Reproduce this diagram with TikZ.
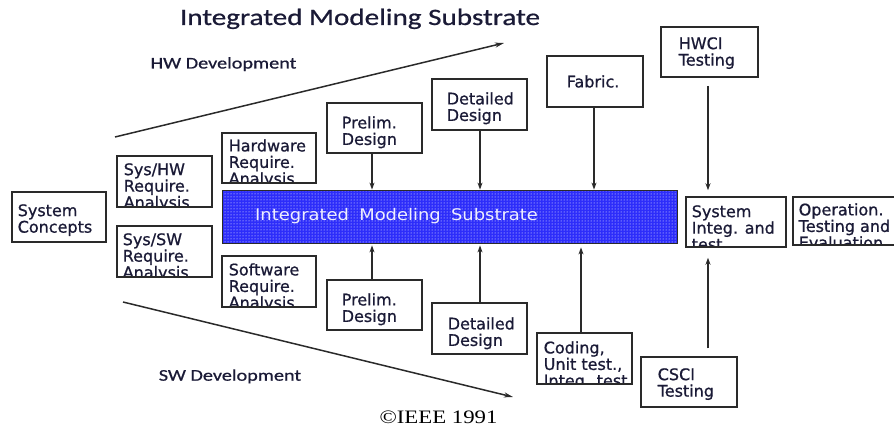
\documentclass[tikz,border=0pt]{standalone}
\usepackage{fontspec}
\usetikzlibrary{arrows.meta,patterns}
\newfontfamily\boxfont[FakeBold=0.8]{DejaVu Sans}
\newfontfamily\barfont[FakeStretch=1.12,WordSpace=1.8]{DejaVu Sans}
\newfontfamily\headfont[FakeStretch=1.24,FakeBold=0.8]{Carlito}
\newfontfamily\notefont[FakeStretch=1.2]{Liberation Serif}
\definecolor{ink}{HTML}{1A1A36}
\definecolor{edge}{HTML}{2A2A2A}
\definecolor{imsblue}{RGB}{45,45,250}

\tikzset{
  stage/.style={draw=edge, line width=1.5pt, rectangle, inner sep=0pt, fill=white},
  stagetext/.style={draw=none, fill=none, minimum width=0pt, minimum height=0pt,
    font=\boxfont\fontsize{16}{16.5}\selectfont, text=ink,
    align=left, inner sep=0pt, anchor=north west},
  flow/.style={draw=edge, line width=1.4pt, -{Stealth[length=7pt,width=5pt]}},
  phase/.style={draw=edge, line width=1.5pt, -{Stealth[length=9pt,width=5pt]}},
  heading/.style={font=\headfont, text=ink, inner sep=0pt, anchor=base},
}

% stage box: name, left, top, right, bottom, text inset x, text inset y, text
\newcommand\stagebox[8]{%
  \node[stage, minimum width={#4-#2}, minimum height={#5-#3},
    path picture={\node[stagetext] at ([xshift=#6pt, yshift={-#7pt+0.5pt}]path picture bounding box.north west) {#8};}]
    (#1) at ({(#2+#4)/2},{(#3+#5)/2}) {};}

\begin{document}
\begin{tikzpicture}[x=1pt, y=-1pt]
\useasboundingbox (0,0) rectangle (894,428);
\clip (0,0) rectangle (894,428);

% headings
\node[heading, font=\headfont\fontsize{23.5}{26}\selectfont] (title) at (360,25) {Integrated Modeling Substrate};
\node[heading, font=\headfont\fontsize{16.3}{18}\selectfont] (hwdev) at (223.5,68.5) {HW Development};
\node[heading, font=\headfont\fontsize{16.3}{18}\selectfont] (swdev) at (230,380.7) {SW Development};
\node[heading, font=\notefont\fontsize{19}{21}\selectfont, text=black] (ieee) at (438.5,423) {\char"00A9IEEE 1991};

% development directions
\coordinate (hwfrom) at (115,137);
\coordinate (hwto) at (504,43);
\coordinate (swfrom) at (123,302);
\coordinate (swto) at (513,397);
\draw[phase] (hwfrom) -- (hwto);
\draw[phase] (swfrom) -- (swto);

% central substrate bar
\node[draw=edge, line width=0.8pt, minimum width=455pt, minimum height=53pt, inner sep=0pt,
  preaction={fill=imsblue}, pattern=dots, pattern color=white]
  (imsbar) at (449.5,216.5) {};
\node[font=\barfont\fontsize{16}{18}\selectfont, text=white!92!imsblue, inner sep=0pt, anchor=base west]
  (imstext) at (255,220) {Integrated Modeling Substrate};

% stages
\stagebox{concepts}{12}{192}{106}{242}{5}{12}{System\\Concepts}
\stagebox{syshw}{117}{156}{212}{207}{6}{7}{Sys/HW\\Require.\\Analysis}
\stagebox{syssw}{117}{226}{212}{277}{5}{7}{Sys/SW\\Require.\\Analysis}
\stagebox{hwreq}{222}{133}{316}{183}{6}{6}{Hardware\\Require.\\Analysis}
\stagebox{swreq}{222}{256}{316}{307}{6}{7}{Software\\Require.\\Analysis}
\stagebox{prelimhw}{327}{103}{422}{153}{14}{13}{Prelim.\\Design}
\stagebox{detailhw}{432}{79}{527}{130}{14}{13}{Detailed\\Design}
\stagebox{fabric}{547}{56}{643}{107}{19}{19}{Fabric.}
\stagebox{hwci}{661}{27}{758}{77}{17}{10}{HWCI\\Testing}
\stagebox{sysinteg}{686}{197}{786}{247}{5}{8}{System\\Integ. and\\test}
\stagebox{operation}{793}{197}{905}{245}{5}{6}{Operation.\\Testing and\\Evaluation}
\stagebox{prelimsw}{327}{280}{422}{330}{14}{13}{Prelim.\\Design}
\stagebox{detailsw}{432}{303}{527}{354}{15}{14}{Detailed\\Design}
\stagebox{coding}{537}{333}{632}{384}{6}{8}{Coding,\\Unit test.,\\Integ. test}
\stagebox{csci}{641}{357}{737}{407}{16}{11}{CSCI\\Testing}

% feeds into and out of the substrate
\draw[flow] ([xshift=-2.5pt]prelimhw.south) -- ([xshift=-2.5pt]prelimhw.south |- imsbar.north);
\draw[flow] ([xshift=0.5pt]detailhw.south) -- ([xshift=0.5pt]detailhw.south |- imsbar.north);
\draw[flow] ([xshift=-1pt]fabric.south) -- ([xshift=-1pt]fabric.south |- imsbar.north);
\draw[flow, shorten >=2pt] ([xshift=-2.5pt]prelimsw.north) -- ([xshift=-2.5pt]prelimsw.north |- imsbar.south);
\draw[flow, shorten >=2pt] ([xshift=0.5pt]detailsw.north) -- ([xshift=0.5pt]detailsw.north |- imsbar.south);
\draw[flow, shorten >=4pt] ([xshift=-3.5pt]coding.north) -- ([xshift=-3.5pt]coding.north |- imsbar.south);

% configuration item testing into system integration
\coordinate (lane) at (708,0);
\draw[flow, shorten <=8pt, shorten >=6pt] (hwci.south -| lane) -- (sysinteg.north -| lane);
\draw[flow, shorten <=8pt, shorten >=10pt] (csci.north -| lane) -- (sysinteg.south -| lane);
\end{tikzpicture}
\end{document}
